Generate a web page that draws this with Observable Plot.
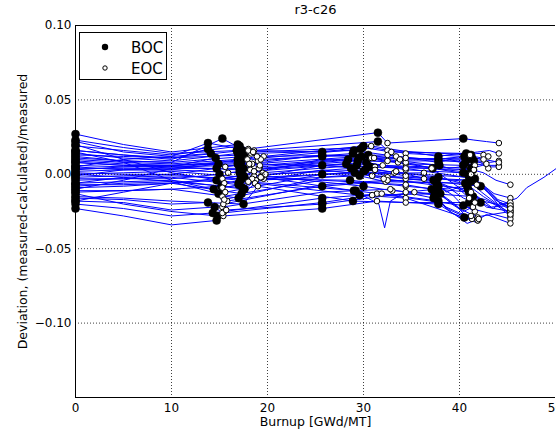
<!DOCTYPE html>
<html><head><meta charset="utf-8">
<script src="https://cdn.jsdelivr.net/npm/d3@7"></script>
<script src="https://cdn.jsdelivr.net/npm/@observablehq/plot@0.6"></script>
<style>
body{margin:0;background:#fff;font-family:"DejaVu Sans",sans-serif;}
#wrap{position:relative;width:556px;height:429px;overflow:hidden;background:#fff;}
#legend{position:absolute;left:79px;top:32px;width:88px;height:48px;border:1px solid #000;background:#fff;box-sizing:border-box;}
#legend svg{display:block;}
</style></head><body>
<div id="wrap"></div>
<script>
const chartTitle = "r3-c26";
const xLabel = "Burnup [GWd/MT]";
const yLabel = "Deviation, (measured-calculated)/measured";
const xTicks = [0, 10, 20, 30, 40, 50];
const yTicks = [0.10, 0.05, 0.00, -0.05, -0.10];
const legendLabels = ["BOC", "EOC"];

// burnup [GWd/MT] of each point along each axial track
const burnup = [
  [0,5,10,16.9,18.0,31.5,32.5,40.4,41.5,42.8,44.1],
  [0,5,10,17.1,18.6,31.5,32.5,41.2,41.8,42.2,42.5],
  [0,5,10,17.4,19.6,30.0,34.4,40.5,41.5,42.3,43.0],
  [0,5,10,16.9,17.9,29.7,30.8,40.8,42.0,43.2,44.1],
  [0,5,10,17.6,19.0,28.9,32.5,41.5,42.2,42.6,43.0],
  [0,5,10,16.9,18.4,29.8,34.4,40.4,41.6,42.8,44.1],
  [0,5,10,17.2,19.2,28.4,31.2,41.4,42.5,43.8,45.3],
  [0,5,10,17.0,18.2,30.3,34.4,40.4,42.0,43.6,45.3],
  [0,5,10,17.5,19.5,29.3,33.2,41.0,42.6,44.0,45.3],
  [0,5,10,17.1,18.6,28.7,30.9,41.5,43.0,44.2,45.3],
  [0,5,10,17.6,19.6,30.0,34.4,42.2,43.2,44.3,45.3],
  [0,5,10,17.2,18.8,29.6,32.3,40.6,42.5,44.0,45.3],
  [0,5,10,17.0,18.4,28.6,34.4,41.0,42.4,43.8,45.3],
  [0,5,10,17.6,19.4,30.0,33.0,41.4,42.7,44.1,45.3],
  [0,5,10,17.3,18.0,29.2,31.4,40.4,41.8,43.0,45.3],
  [0,5,10,17.0,18.7,29.6,34.4,40.5,41.6,42.8,45.3],
  [0,5,10,17.5,19.0,28.9,34.4,41.0,41.3,41.6,41.9],
  [0,5,10,17.4,18.3,29.0,33.4,40.6,41.4,42.0,42.8],
  [0,5,10,17.1,19.1,29.4,32.0,41.2,42.4,43.3,44.1],
  [0,5,10,16.9,18.6,28.2,37.1,42.2,43.5,44.3,45.3],
  [0,5,10,13.8,18.0,25.7,30.8,37.8,38.8,40.0,41.1],
  [0,5,10,15.3,19.3,25.7,32.5,37.8,39.0,40.2,41.6],
  [0,5,10,14.6,15.3,25.7,34.4,37.2,38.7,40.0,41.2],
  [0,5,10,14.9,15.5,25.7,31.2,37.8,39.0,40.3,41.8],
  [0,5,10,14.7,15.3,25.7,32.5,37.3,38.8,40.0,41.2],
  [0,5,10,15.0,15.6,25.7,36.3,37.8,39.3,40.2,41.6],
  [0,5,10,14.7,15.3,25.7,34.4,37.1,38.9,40.3,41.9],
  [0,5,10,15.2,15.8,25.7,36.3,37.8,39.5,40.5,41.9],
  [0,5,10,13.8,15.3,25.7,32.8,37.3,39.0,40.4,41.3],
  [0,5,10,14.3,15.5,25.7,31.9,37.8,39.2,40.5,45.3],
  [0,5,10,14.7,15.4,25.7,31.4,37.8,39.5,40.8,42.0],
  [0,5,10,13.8,15.6,25.7,34.4,37.8,39.0,40.5,42.5],
  [0,5,10,14.9,15.4,25.7,32.5,37.6,38.6,39.8,41.0],
  [0,5,10,14.5,15.3,25.7,30.9,38.0,39.2,40.4,41.4],
  [0,5,10,17.3,19.2,29.5,33.6,40.9,43.0,44.1,46.0,47.0,48.8,50.1],
  [0,5,10,17.4,19.4,29.0,31.6,32.2,32.8,34.4,40.8,41.8,42.8,45.3],
  [0,5,10,17.3,18.9,30.5,33.8,41.3,42.4,43.4,44.1],
  [0,5,10,17.0,19.3,29.1,32.1,40.9,42.1,43.3,45.3],
  [0,5,10,14.4,15.5,25.7,33.4,37.6,39.1,40.4,41.6],
  [0,5,10,17.5,18.1,30.7,34.4,41.6,42.6,43.7,45.3],
  [0,5,10,14.1,15.9,25.7,31.1,37.9,38.9,40.1,41.5],
  [0,5,10,16.8,18.5,29.9,32.9,40.7,41.9,43.1,44.1],
  [0,5,10,14.8,15.7,25.7,35.3,37.4,38.6,40.0,41.2],
  [0,5,10,17.2,19.8,30.2,34.4,41.1,42.3,43.5,45.3]
];

// deviation (measured-calculated)/measured at the same points
const deviation = [
  [0.027,0.020,0.015,0.020,0.017,0.028,0.021,0.024,0.023,0.022,0.021],
  [0.019,0.016,0.013,0.019,0.016,0.022,0.016,0.013,0.014,0.014,0.013],
  [0.016,0.013,0.011,0.016,0.012,0.019,0.014,0.012,0.012,0.011,0.012],
  [0.014,0.011,0.009,0.014,0.010,0.017,0.011,0.010,0.009,0.008,0.009],
  [0.012,0.009,0.008,0.012,0.009,0.014,0.009,0.009,0.008,0.006,0.004],
  [0.010,0.008,0.007,0.010,0.007,0.012,0.007,0.006,0.007,0.006,0.006],
  [0.008,0.006,0.006,0.008,0.005,0.010,0.005,0.003,0.001,-0.004,-0.007],
  [0.006,0.005,0.005,0.006,0.003,0.008,0.003,0.001,-0.005,-0.013,-0.016],
  [0.004,0.004,0.004,0.004,0.001,0.006,0.001,-0.002,-0.008,-0.017,-0.020],
  [0.002,0.003,0.003,0.001,-0.001,0.004,-0.001,-0.004,-0.011,-0.019,-0.022],
  [0.000,0.001,0.002,-0.002,-0.003,0.002,-0.003,-0.008,-0.013,-0.020,-0.024],
  [-0.002,-0.001,0.000,-0.004,-0.004,-0.001,-0.005,-0.006,-0.015,-0.021,-0.019],
  [-0.004,-0.003,-0.002,-0.007,-0.003,-0.004,-0.008,-0.012,-0.018,-0.020,-0.026],
  [-0.006,-0.005,-0.004,-0.010,-0.001,-0.008,-0.011,-0.015,-0.017,-0.022,-0.028],
  [-0.009,-0.008,-0.006,-0.013,-0.005,-0.011,-0.013,-0.021,-0.024,-0.026,-0.030],
  [-0.012,-0.011,-0.010,-0.016,-0.006,-0.014,-0.016,-0.029,-0.032,-0.027,-0.033],
  [-0.015,-0.016,-0.018,-0.020,-0.008,-0.018,-0.019,-0.019,-0.024,-0.027,-0.031],
  [0.013,0.012,0.011,0.013,0.014,0.016,0.012,0.008,0.009,0.008,0.007],
  [-0.001,0.003,0.005,0.003,0.004,0.009,0.006,0.004,0.006,0.005,0.005],
  [0.003,0.005,0.006,0.007,0.002,0.007,0.004,-0.019,-0.023,-0.019,-0.022],
  [0.022,0.015,0.012,0.021,0.016,0.015,0.019,0.012,0.013,0.014,0.013],
  [0.011,0.009,0.008,0.024,0.010,0.012,0.013,0.008,0.010,0.008,0.006],
  [0.008,0.006,0.005,0.011,-0.003,0.010,0.008,0.004,0.003,0.002,0.000],
  [0.005,0.003,0.003,0.007,-0.006,0.006,0.003,-0.002,-0.004,-0.006,-0.007],
  [0.001,0.000,0.000,0.004,-0.009,0.003,-0.002,-0.004,-0.008,-0.010,-0.012],
  [-0.003,-0.003,-0.003,0.000,-0.012,0.000,0.001,-0.008,-0.014,-0.020,-0.025],
  [-0.007,-0.007,-0.006,-0.004,-0.015,-0.004,-0.007,-0.010,-0.018,-0.024,-0.029],
  [-0.011,-0.011,-0.010,-0.008,-0.018,-0.008,-0.003,-0.012,-0.020,-0.027,-0.031],
  [-0.016,-0.017,-0.020,-0.019,-0.022,-0.012,-0.010,-0.016,-0.024,-0.028,-0.030],
  [-0.020,-0.023,-0.028,-0.026,-0.025,-0.016,-0.013,-0.018,-0.026,-0.030,-0.025],
  [-0.023,-0.028,-0.034,-0.031,-0.028,-0.023,-0.018,-0.020,-0.027,-0.033,-0.030],
  [0.016,0.013,0.010,0.017,0.005,0.013,0.011,0.010,0.011,0.012,0.010],
  [0.000,-0.002,-0.005,-0.013,-0.020,-0.007,-0.004,-0.006,-0.012,-0.009,-0.016],
  [-0.018,-0.019,-0.024,-0.022,-0.026,-0.019,-0.014,-0.013,-0.020,-0.025,-0.022],
  [0.009,0.007,0.006,0.009,0.006,0.011,0.008,0.000,-0.012,-0.021,-0.016,-0.009,-0.002,0.004],
  [-0.008,-0.006,-0.005,-0.009,-0.002,-0.011,-0.020,-0.036,-0.018,-0.012,-0.008,-0.016,-0.022,-0.025],
  [-0.010,-0.004,0.004,0.010,0.012,0.013,0.010,0.011,0.010,0.009,0.008],
  [0.020,0.010,0.001,-0.006,-0.002,0.001,-0.003,-0.010,-0.016,-0.022,-0.021],
  [0.015,0.008,-0.004,-0.010,-0.017,-0.002,0.002,-0.005,-0.010,-0.016,-0.019],
  [-0.018,-0.012,-0.006,-0.001,0.007,0.005,0.004,-0.003,-0.010,-0.017,-0.023],
  [0.005,0.010,0.012,0.014,0.001,0.008,0.011,0.006,0.004,0.005,0.003],
  [0.023,0.018,0.014,0.016,0.015,0.018,0.015,0.014,0.015,0.016,0.014],
  [-0.013,-0.020,-0.025,-0.028,-0.024,-0.020,-0.012,-0.014,-0.022,-0.026,-0.028],
  [-0.006,-0.002,-0.001,-0.003,0.000,0.003,-0.001,-0.005,-0.012,-0.018,-0.027]
];

// point kind along each track: B = BOC, E = EOC, . = no marker
const pointKind = [
  "B..BEBEB..E","B..BEBEB..E","B..BEBEB..E","B..BEBEB..E","B..BEBEB..E",
  "B..BEBEB..E","B..BEBEB..E","B..BEBEB..E","B..BEBEB..E","B..BEBEB..E",
  "B..BEBEB..E","B..BEBEB..E","B..BEBEB..E","B..BEBEB..E","B..BEBEB..E",
  "B..BEBEB..E","B..BEBEB..E","B..BEBEB..E","B..BEBEB..E","B..BEBEB..E",
  "B..BEBEB..E","B..BEBEB..E","B..BE.EB..E","B..BEBEB..E","B..BE.EB..E",
  "B..BEBEB..E","B..BE.EB..E","B..BEBEB..E","B..BE.EB..E","B..BEBEB..E",
  "B..BEBEB..E","B..BEBEB..E","B..BE.EB..E","B..BEBEB..E",
  "B..BEBEB......",
  "B..BEB...EB..E",
  "B..BEBEB..E","B..BEBEB..E","B..BE.EB..E","B..BEBEB..E",
  "B..BE.EB..E","B..BEBEB..E","B..BEBEB..E","B..BEBEB..E"
];

const rows = [];
burnup.forEach((xs, i) => xs.forEach((b, j) => rows.push({track: i, burnup: b, deviation: deviation[i][j], kind: pointKind[i][j]})));
const bocPts = rows.filter(d => d.kind === "B");
const eocPts = rows.filter(d => d.kind === "E");

const fmtY = d => (d < 0 ? "\u2212" : "") + Math.abs(d).toFixed(2);
const gridX = xTicks.filter(t => t > 0 && t < 50);
const gridY = yTicks.filter(t => t < 0.1);

const plot = Plot.plot({
  width: 556, height: 429,
  marginLeft: 75, marginRight: 1, marginTop: 25, marginBottom: 32,
  style: {fontFamily: "DejaVu Sans", fontSize: "12px", color: "#000", background: "#fff"},
  x: {domain: [0, 50]},
  y: {domain: [-0.15, 0.10]},
  marks: [
    Plot.line(rows, {x: "burnup", y: "deviation", z: "track", stroke: "#0000ff", strokeWidth: 1}),
    Plot.dot(bocPts, {x: "burnup", y: "deviation", r: 4, fill: "#000", stroke: "#000", strokeWidth: 0.5}),
    Plot.dot(eocPts, {x: "burnup", y: "deviation", r: 2.8, fill: "#fff", stroke: "#000", strokeWidth: 1}),
    Plot.ruleX(gridX, {stroke: "#000", strokeWidth: 1, strokeDasharray: "1,2", strokeOpacity: 0.75}),
    Plot.ruleY(gridY, {stroke: "#000", strokeWidth: 1, strokeDasharray: "1,2", strokeOpacity: 0.75}),
    Plot.ruleX([0], {stroke: "#000", strokeWidth: 1}),
    Plot.ruleY([0.10, -0.15], {stroke: "#000", strokeWidth: 1}),
    Plot.axisX({ticks: xTicks, tickSize: 0, tickPadding: 6, tickFormat: d => String(d), label: null, fontSize: 12}),
    Plot.axisY({ticks: yTicks, tickSize: 0, tickPadding: 4, tickFormat: fmtY, label: null, fontSize: 12}),
    Plot.text([chartTitle], {frameAnchor: "top", lineAnchor: "bottom", dy: -12, fontSize: 13, fill: "#000"}),
    Plot.text([xLabel], {frameAnchor: "bottom", lineAnchor: "bottom", dy: 28, fontSize: 12.5, fill: "#000"}),
    Plot.text([yLabel], {frameAnchor: "left", textAnchor: "middle", rotate: -90, dx: -53, fontSize: 12.5, fill: "#000"})
  ]
});

const wrap = document.getElementById("wrap");
wrap.appendChild(plot);

const legend = document.createElement("div");
legend.id = "legend";
legend.innerHTML = `<svg width="86" height="46" font-family="DejaVu Sans" font-size="15">
  <circle cx="25" cy="14" r="3.2" fill="#000"/>
  <text x="51" y="19.5" fill="#000">${legendLabels[0]}</text>
  <circle cx="25" cy="35" r="2.2" fill="#fff" stroke="#000" stroke-width="1"/>
  <text x="51" y="40.5" fill="#000">${legendLabels[1]}</text>
</svg>`;
wrap.appendChild(legend);
</script>
</body></html>
